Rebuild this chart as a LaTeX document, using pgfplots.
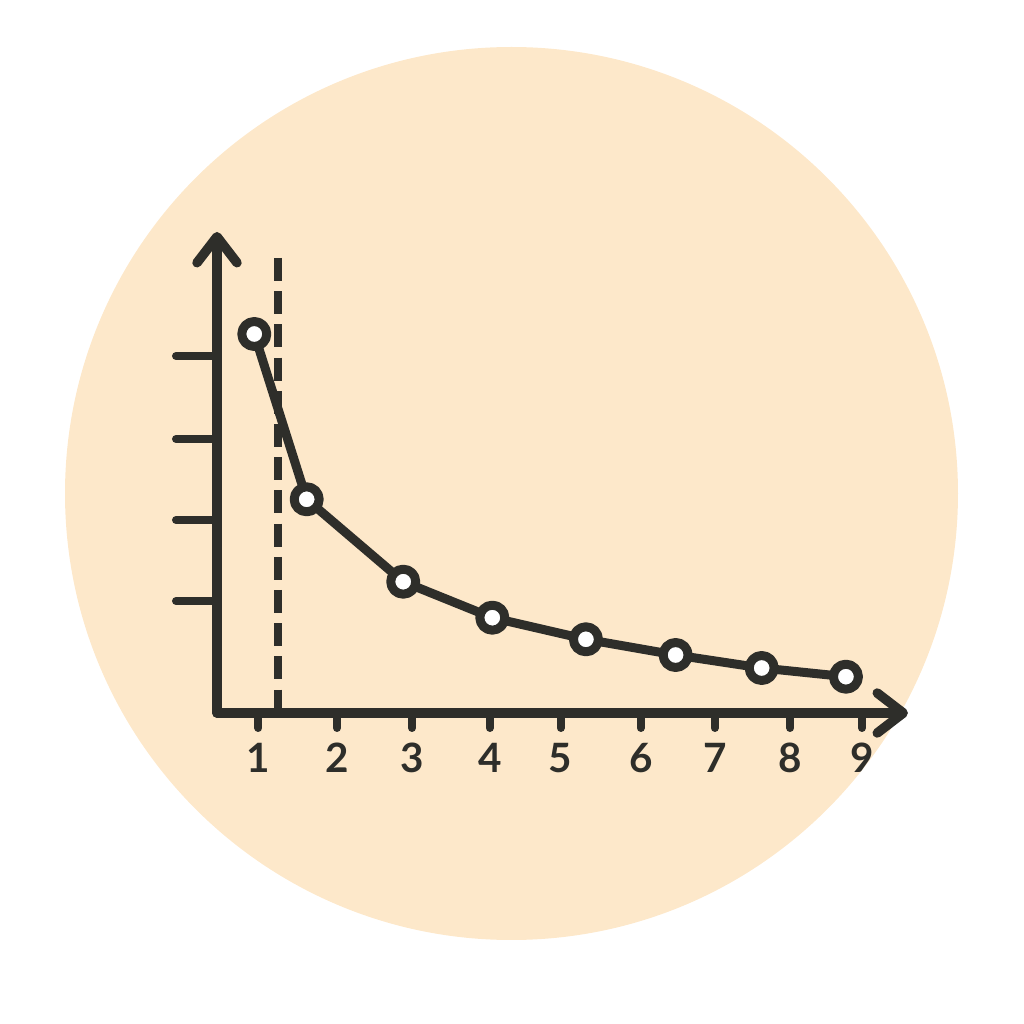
\documentclass[border=0pt]{standalone}
\usepackage{fontspec}
\setmainfont{Lato}
\usepackage{pgfplots}
\pgfplotsset{compat=1.18}
\usetikzlibrary{arrows.meta}
\definecolor{peach}{HTML}{FDE8CA}
\definecolor{ink}{HTML}{2E2E2A}
\begin{document}
\begin{tikzpicture}
\path[use as bounding box] (0,0) rectangle (102.4mm,102.4mm);
\fill[peach] (51.15mm,53.05mm) circle[radius=44.65mm];
\begin{axis}[
  at={(21.7mm,31.1mm)}, anchor=south west,
  scale only axis, width=69.1mm, height=48.1mm,
  xmin=0.457, xmax=9.61, ymin=0, ymax=481,
  axis lines=left,
  axis line style={ink, line width=0.95mm, line cap=round,
    -{Straight Barb[length=2.6mm,width=4mm,line cap=round,line join=round]}},
  xtick={1.005,2.046,3.04,4.07,5.01,6.07,7.05,8.05,9.0},
  xticklabels={1,2,3,4,5,6,7,8,9},
  ytick=\empty,
  extra y ticks={112,193,274,357},
  extra y tick labels={},
  extra y tick style={major tick length=4.1mm, tick align=outside},
  tick align=outside,
  major tick length=1.5mm,
  tick style={ink, line width=0.8mm, line cap=round},
  xticklabel style={font=\fontsize{11.5}{13}\selectfont\bfseries, text=ink, yshift=-0.3mm},
  clip=false,
]
% threshold line, drawn from the top so the pattern starts and ends with a dash
\addplot[ink, line width=0.8mm, dash pattern=on 2.3mm off 1.02mm]
  coordinates {(1.265,455) (1.265,0)};
\addplot[ink, line width=0.9mm, line join=round,
  mark=*, mark size=1.25mm,
  mark options={fill=white, draw=ink, line width=0.9mm}]
  coordinates {
  (0.951,379) (1.645,213.7) (2.924,131.3) (4.104,95.3)
  (5.344,73.7) (6.532,58) (7.672,45) (8.788,36.3)
  };
\end{axis}
\end{tikzpicture}
\end{document}
